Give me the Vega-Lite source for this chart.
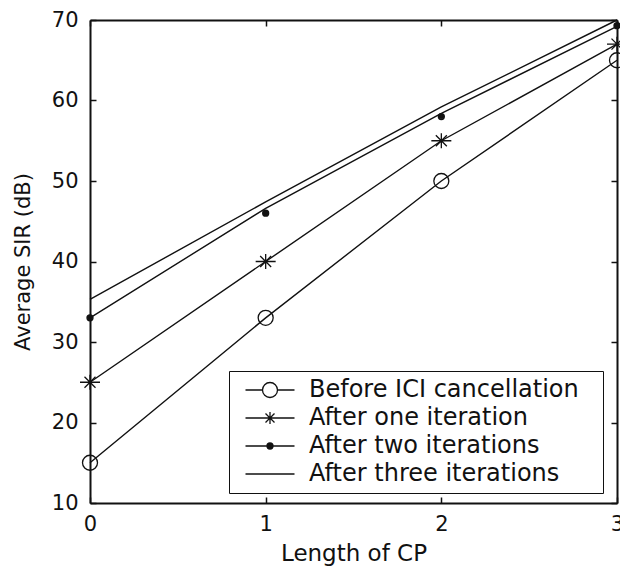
{
  "$schema": "https://vega.github.io/schema/vega-lite/v6.json",
  "autosize": {"type": "none"},
  "padding": {"left": 90, "top": 20, "right": 3, "bottom": 65},
  "width": 527,
  "height": 483,
  "background": "white",
  "config": {
    "view": {"stroke": null},
    "font": "DejaVu Sans",
    "axis": {
      "grid": false,
      "domainColor": "#111",
      "domainWidth": 2,
      "tickColor": "#111",
      "tickWidth": 1.5,
      "tickSize": -6,
      "labelColor": "#111",
      "labelFont": "DejaVu Sans",
      "labelFontSize": 21,
      "labelFlush": false,
      "labelOverlap": false,
      "labelBound": false,
      "titleColor": "#111",
      "titleFont": "DejaVu Sans",
      "titleFontWeight": "normal"
    }
  },
  "data": {
    "values": [
      {"cp": 0, "series": "Before ICI cancellation", "line": 15, "point": 15},
      {"cp": 1, "series": "Before ICI cancellation", "line": 33, "point": 33},
      {"cp": 2, "series": "Before ICI cancellation", "line": 50, "point": 50},
      {"cp": 3, "series": "Before ICI cancellation", "line": 65, "point": 65},
      {"cp": 0, "series": "After one iteration", "line": 25, "point": 25},
      {"cp": 1, "series": "After one iteration", "line": 40, "point": 40},
      {"cp": 2, "series": "After one iteration", "line": 55, "point": 55},
      {"cp": 3, "series": "After one iteration", "line": 67, "point": 67},
      {"cp": 0, "series": "After two iterations", "line": 33, "point": 33},
      {"cp": 1, "series": "After two iterations", "line": 46.6, "point": 46},
      {"cp": 2, "series": "After two iterations", "line": 58.4, "point": 58},
      {"cp": 3, "series": "After two iterations", "line": 69.2, "point": 69.3},
      {"cp": 0, "series": "After three iterations", "line": 35.3, "point": null},
      {"cp": 1, "series": "After three iterations", "line": 47.4, "point": null},
      {"cp": 2, "series": "After three iterations", "line": 59.2, "point": null},
      {"cp": 3, "series": "After three iterations", "line": 70, "point": null}
    ]
  },
  "resolve": {"scale": {"shape": "independent"}, "axis": {"x": "independent", "y": "independent"}},
  "layer": [
    {
      "mark": {"type": "line", "color": "#111", "strokeWidth": 1.4},
      "encoding": {
        "x": {
          "field": "cp", "type": "quantitative",
          "scale": {"domain": [0, 3], "nice": false, "zero": false},
          "axis": {"orient": "bottom", "values": [0, 1, 2, 3], "format": "d", "title": "Length of CP", "titleFontSize": 23, "labelPadding": 16, "titlePadding": 8}
        },
        "y": {
          "field": "line", "type": "quantitative",
          "scale": {"domain": [10, 70], "nice": false, "zero": false},
          "axis": {"orient": "left", "values": [10, 20, 30, 40, 50, 60, 70], "format": "d", "title": "Average SIR (dB)", "titleFontSize": 21, "labelPadding": 18, "titlePadding": 18}
        },
        "detail": {"field": "series"},
        "order": {"field": "cp"}
      }
    },
    {
      "mark": {"type": "point", "filled": false, "color": "#111", "strokeWidth": 1.3, "size": 400, "opacity": 1},
      "encoding": {
        "x": {
          "field": "cp", "type": "quantitative",
          "axis": {"orient": "top", "values": [0, 1, 2, 3], "labels": false, "title": null}
        },
        "y": {
          "field": "point", "type": "quantitative",
          "axis": {"orient": "right", "values": [10, 20, 30, 40, 50, 60, 70], "labels": false, "title": null}
        },
        "shape": {
          "field": "series", "type": "nominal",
          "scale": {
            "domain": ["Before ICI cancellation", "After one iteration", "After two iterations", "After three iterations"],
            "range": [
              "M-0.75,0A0.75,0.75,0,1,0,0.75,0A0.75,0.75,0,1,0,-0.75,0",
              "M-1,0L1,0M0,-0.75L0,0.75M-0.55,-0.55L0.55,0.55M-0.55,0.55L0.55,-0.55",
              "M-0.3,0A0.3,0.3,0,1,0,0.3,0A0.3,0.3,0,1,0,-0.3,0M-0.18,0A0.18,0.18,0,1,0,0.18,0A0.18,0.18,0,1,0,-0.18,0M-0.06,0A0.06,0.06,0,1,0,0.06,0A0.06,0.06,0,1,0,-0.06,0",
              "M0,0"
            ]
          },
          "legend": null
        }
      }
    },
    {
      "mark": {"type": "point", "filled": false, "color": "#111", "strokeWidth": 1.3, "size": 400, "opacity": 0},
      "encoding": {
        "x": {"field": "cp", "type": "quantitative", "axis": null},
        "y": {"field": "line", "type": "quantitative", "axis": null},
        "shape": {
          "field": "series", "type": "nominal",
          "scale": {
            "domain": ["Before ICI cancellation", "After one iteration", "After two iterations", "After three iterations"],
            "range": [
              "M-2.45,0L-0.75,0M0.75,0L2.45,0M-0.75,0A0.75,0.75,0,1,0,0.75,0A0.75,0.75,0,1,0,-0.75,0",
              "M-2.45,0L2.45,0M0,-0.6L0,0.6M-0.45,-0.45L0.45,0.45M-0.45,0.45L0.45,-0.45",
              "M-2.45,0L2.45,0M-0.3,0A0.3,0.3,0,1,0,0.3,0A0.3,0.3,0,1,0,-0.3,0M-0.18,0A0.18,0.18,0,1,0,0.18,0A0.18,0.18,0,1,0,-0.18,0M-0.06,0A0.06,0.06,0,1,0,0.06,0A0.06,0.06,0,1,0,-0.06,0",
              "M-2.45,0L2.45,0"
            ]
          },
          "legend": {
            "title": null,
            "orient": "none",
            "legendX": 139,
            "legendY": 351,
            "padding": 7,
            "fillColor": "white",
            "strokeColor": "#111",
            "symbolSize": 400,
            "symbolOpacity": 1,
            "symbolStrokeWidth": 1.3,
            "symbolStrokeColor": "#111",
            "symbolOffset": 22,
            "labelOffset": 27,
            "labelFont": "DejaVu Sans",
            "labelFontSize": 24,
            "labelColor": "#111",
            "labelLimit": 400,
            "labelExpr": "datum.label + '\u2002\u2009\u200b'",
            "rowPadding": 4,
            "encode": {
              "legend": {"strokeWidth": {"value": 1.5}},
              "symbols": {"opacity": {"value": 1}}
            }
          }
        }
      }
    }
  ]
}
